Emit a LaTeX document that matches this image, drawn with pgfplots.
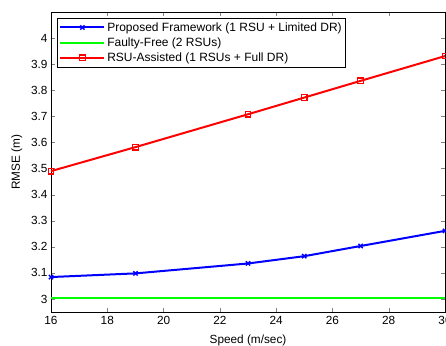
\documentclass[border=0pt]{standalone}
\usepackage{pgfplots}
\pgfplotsset{compat=1.18}
\usepackage{fontspec}
\setmainfont{Liberation Sans}
\begin{document}
\begin{tikzpicture}
\begin{axis}[
  width=394pt, height=300pt, scale only axis,
  xmin=16, xmax=30, ymin=2.95, ymax=4.1,
  xtick={16,18,...,30},
  ytick={3,3.1,...,4.0},
  yticklabels={3,3.1,3.2,3.3,3.4,3.5,3.6,3.7,3.8,3.9,4},
  tick align=inside,
  tick pos=both,
  major tick length=4pt,
  /pgf/number format/assume math mode=true,
  ticklabel style={font=\fontsize{11.8}{14}\selectfont},
  xticklabel style={yshift=-1pt},
  label style={font=\fontsize{11.8}{14}\selectfont},
  xlabel={Speed (m/sec)},
  ylabel={RMSE (m)},
  xlabel style={yshift=-3pt},
  ylabel style={yshift=2pt},
  axis line style={line width=0.8pt},
  every axis plot/.append style={line width=2pt},
  legend style={at={(0.015,0.98)}, anchor=north west,
    draw=black, thick,
    font=\fontsize{12}{14}\selectfont, row sep=1pt, inner xsep=2pt, inner ysep=2pt},
  legend cell align=left,
  legend image code/.code={\path (0pt,0pt) -- (44pt,0pt);
    \draw[#1, line width=2pt] (3pt,0pt) -- (22pt,0pt) plot[only marks] coordinates {(22pt,0pt)} -- (38pt,0pt);},
]
\addplot[color=blue, mark=x, mark size=3pt, mark options={solid, line width=1.4pt}] coordinates {
(16,3.084) (19,3.098) (23,3.136) (25,3.164) (27,3.203) (30,3.261)};
\addlegendentry{Proposed Framework (1 RSU + Limited DR)}
\addplot[color=green] coordinates {
(16,3.003) (19,3.003) (23,3.003) (25,3.003) (27,3.003) (30,3.003)};
\addlegendentry{Faulty{-}Free (2 RSUs)}
\addplot[color=red, mark=square, mark size=2.8pt, mark options={solid, line width=1.2pt}] coordinates {
(16,3.490) (19,3.582) (23,3.708) (25,3.772) (27,3.836) (30,3.931)};
\addlegendentry{RSU{-}Assisted (1 RSUs + Full DR)}
\end{axis}
\pgfresetboundingbox
\path (current axis.south west) ++(-51pt,-33.5pt) rectangle ([shift={(1pt,12pt)}]current axis.north east);
\end{tikzpicture}
\end{document}
